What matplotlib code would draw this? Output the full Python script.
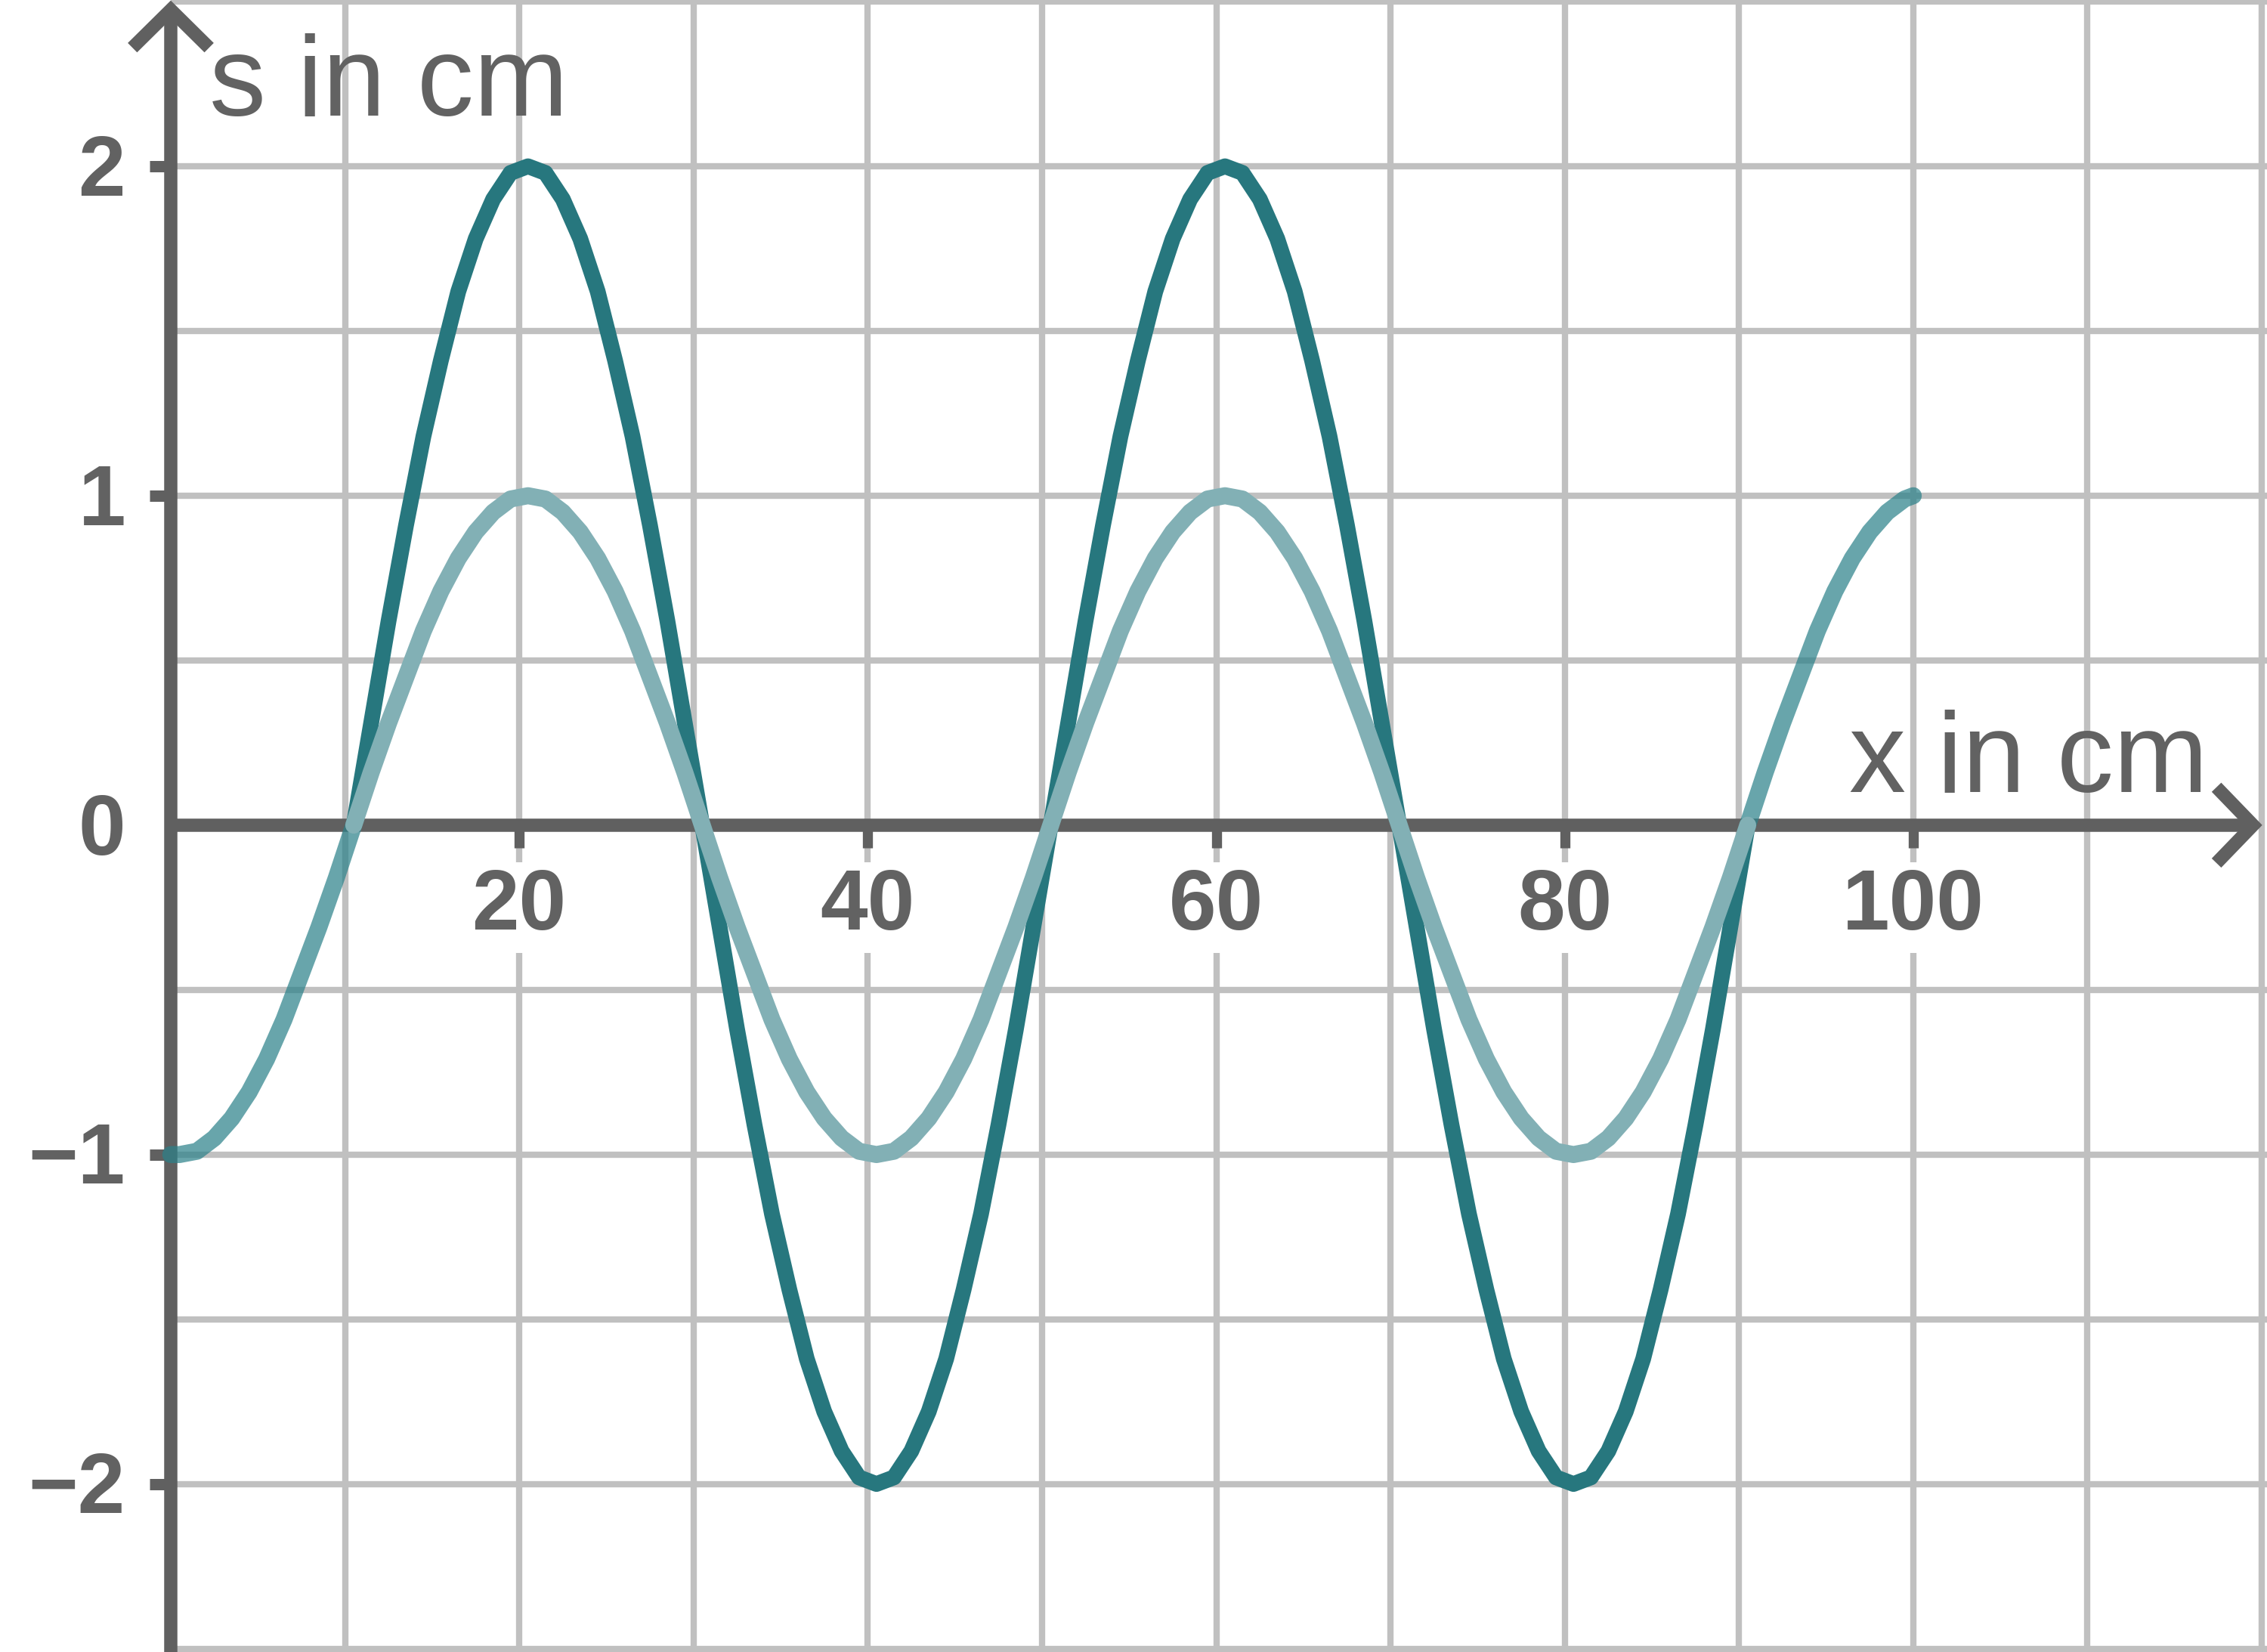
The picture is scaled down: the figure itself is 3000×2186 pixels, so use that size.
import matplotlib.pyplot as plt

# sample positions along x in cm
x_light = [0] + [k + 0.5 for k in range(100)] + [100]
x_dark = [k + 10.5 for k in range(81)]

# displacement s in cm
s_light = [-1.00,
           -1.00, -0.99, -0.95, -0.89, -0.81, -0.71, -0.59, -0.45, -0.31, -0.16, 0.00,
           0.16, 0.31, 0.45, 0.59, 0.71, 0.81, 0.89, 0.95, 0.99, 1.00,
           0.99, 0.95, 0.89, 0.81, 0.71, 0.59, 0.45, 0.31, 0.16, 0.00,
           -0.16, -0.31, -0.45, -0.59, -0.71, -0.81, -0.89, -0.95, -0.99, -1.00,
           -0.99, -0.95, -0.89, -0.81, -0.71, -0.59, -0.45, -0.31, -0.16, 0.00,
           0.16, 0.31, 0.45, 0.59, 0.71, 0.81, 0.89, 0.95, 0.99, 1.00,
           0.99, 0.95, 0.89, 0.81, 0.71, 0.59, 0.45, 0.31, 0.16, 0.00,
           -0.16, -0.31, -0.45, -0.59, -0.71, -0.81, -0.89, -0.95, -0.99, -1.00,
           -0.99, -0.95, -0.89, -0.81, -0.71, -0.59, -0.45, -0.31, -0.16, 0.00,
           0.16, 0.31, 0.45, 0.59, 0.71, 0.81, 0.89, 0.95, 0.99, 1.00]

s_dark = [0.00, 0.31, 0.62, 0.91, 1.18, 1.41, 1.62, 1.78, 1.90, 1.98, 2.00,
          1.98, 1.90, 1.78, 1.62, 1.41, 1.18, 0.91, 0.62, 0.31, 0.00,
          -0.31, -0.62, -0.91, -1.18, -1.41, -1.62, -1.78, -1.90, -1.98, -2.00,
          -1.98, -1.90, -1.78, -1.62, -1.41, -1.18, -0.91, -0.62, -0.31, 0.00,
          0.31, 0.62, 0.91, 1.18, 1.41, 1.62, 1.78, 1.90, 1.98, 2.00,
          1.98, 1.90, 1.78, 1.62, 1.41, 1.18, 0.91, 0.62, 0.31, 0.00,
          -0.31, -0.62, -0.91, -1.18, -1.41, -1.62, -1.78, -1.90, -1.98, -2.00,
          -1.98, -1.90, -1.78, -1.62, -1.41, -1.18, -0.91, -0.62, -0.31, 0.00]

xticks = [20, 40, 60, 80, 100]
yticks = [2, 1, 0, -1, -2]
ytick_labels = ['2', '1', '0', '\u22121', '\u22122']
grid_x = [10, 20, 30, 40, 50, 60, 70, 80, 90, 100, 110, 120]
grid_y = [-2.5, -2.0, -1.5, -1.0, -0.5, 0.5, 1.0, 1.5, 2.0, 2.5]

axis_col = '#606060'
text_col = '#626262'
grid_col = '#c0c0c0'
dark_col = '#27777e'
light_col = '#82b0b5'
outer_col = '#2b8189'   # light wave outside the range of the dark one

plt.rcParams['font.family'] = ['Liberation Sans', 'DejaVu Sans']

fig = plt.figure(figsize=(10, 7.287), dpi=300)
ax = fig.add_axes([0, 0, 1, 1])
ax.axis('off')
ax.set_xlim(-9.8, 120.3)
ax.set_ylim(-2.51, 2.505)

# grid
ax.vlines(grid_x, -2.5, 2.5, color=grid_col, linewidth=2.0, zorder=1)
ax.hlines(grid_y, 0, 120.3, color=grid_col, linewidth=2.0, zorder=1)

# axes with open arrow heads
lw_axis = 4.2
ax.plot([0, 0], [-2.51, 2.47], color=axis_col, linewidth=lw_axis, zorder=2, solid_capstyle='butt')
ax.plot([-2.2, 0, 2.2], [2.36, 2.475, 2.36], color=axis_col, linewidth=lw_axis, zorder=2,
        solid_joinstyle='miter', solid_capstyle='butt')
ax.plot([0, 119.3], [0, 0], color=axis_col, linewidth=lw_axis, zorder=2, solid_capstyle='butt')
ax.plot([117.4, 119.5, 117.4], [0.115, 0, -0.115], color=axis_col, linewidth=lw_axis, zorder=2,
        solid_joinstyle='miter', solid_capstyle='butt')

# tick marks
for t in xticks:
    ax.plot([t, t], [0, -0.07], color=axis_col, linewidth=3.2, zorder=2, solid_capstyle='butt')
for t in yticks:
    if t != 0:
        ax.plot([-1.2, 0], [t, t], color=axis_col, linewidth=3.6, zorder=2, solid_capstyle='butt')

# tick labels
for t in xticks:
    ax.text(t, -0.25, str(t), ha='center', va='center', fontsize=27, fontweight='bold',
            color=text_col, zorder=3,
            bbox=dict(facecolor='white', edgecolor='none', pad=1.5))
for t, lab in zip(yticks, ytick_labels):
    ax.text(-2.6, t - 0.022, lab, ha='right', va='center', fontsize=27, fontweight='bold',
            color=text_col, zorder=3)

# axis titles
ax.text(2.2, 2.153, 's in cm', ha='left', va='baseline', fontsize=36, color=text_col, zorder=3)
ax.text(96.3, 0.10, 'x in cm', ha='left', va='baseline', fontsize=36, color=text_col, zorder=3)

# waves
ax.plot(x_dark, s_dark, color=dark_col, linewidth=5.0, solid_capstyle='round',
        solid_joinstyle='round', zorder=4)
ax.plot(x_light[:12], s_light[:12], color=outer_col, alpha=0.71, linewidth=5.4,
        solid_capstyle='round', solid_joinstyle='round', zorder=5)
ax.plot(x_light[91:], s_light[91:], color=outer_col, alpha=0.71, linewidth=5.4,
        solid_capstyle='round', solid_joinstyle='round', zorder=5)
ax.plot(x_light[11:92], s_light[11:92], color=light_col, linewidth=5.4,
        solid_capstyle='round', solid_joinstyle='round', zorder=6)

plt.savefig('out.png', dpi=300)
